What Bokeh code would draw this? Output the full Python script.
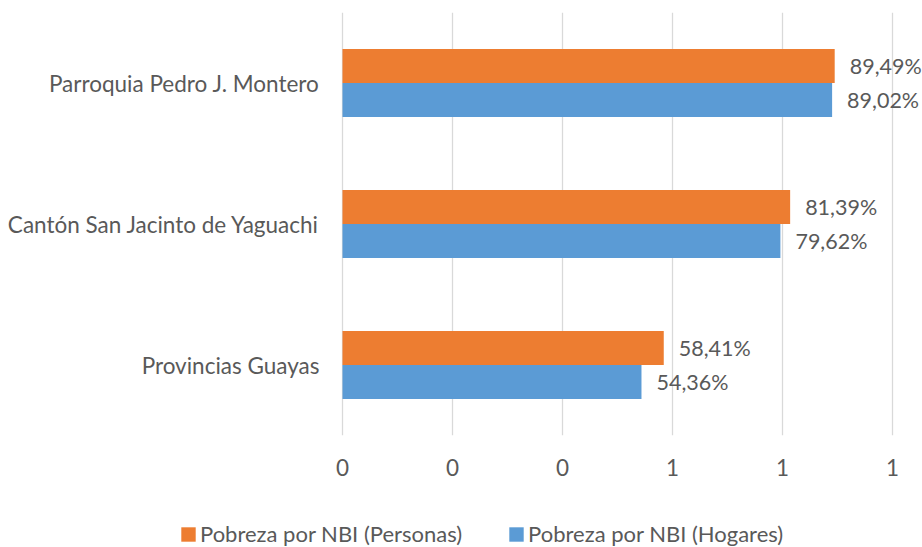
from bokeh.plotting import figure
from bokeh.layouts import column
from bokeh.models import (FactorRange, Range1d, FixedTicker, CustomJSTickFormatter,
                          ColumnDataSource, Legend, LegendItem)
from bokeh.transform import dodge
from bokeh.core.properties import value
from bokeh.embed import file_html
from bokeh.resources import INLINE

# ---- data ----
categories = ["Provincias Guayas", "Cantón San Jacinto de Yaguachi", "Parroquia Pedro J. Montero"]
personas = [0.5841, 0.8139, 0.8949]
hogares = [0.5436, 0.7962, 0.8902]
series_names = ["Pobreza por NBI (Personas)", "Pobreza por NBI (Hogares)"]
x_ticks = [0, 0.2, 0.4, 0.6, 0.8, 1.0]

FONT = "Lato"
TXT = "#595959"
ORANGE = "#ED7D31"
BLUE = "#5B9BD5"


def fmt(v):
    return f"{v * 100:.2f}".replace(".", ",") + "%"


src = ColumnDataSource(dict(
    cat=categories, personas=personas, hogares=hogares,
    lp=[fmt(v) for v in personas], lh=[fmt(v) for v in hogares],
))

W = 922
H_MAIN, H_LEG = 500, 47
PX_PER_UNIT = 550.0
X0 = 342  # pixel position of value 0
p = figure(width=W, height=H_MAIN,
           y_range=FactorRange(*categories),
           x_range=Range1d(-X0 / PX_PER_UNIT, (W - X0) / PX_PER_UNIT),
           output_backend="svg", toolbar_location=None,
           min_border_left=0, min_border_right=0,
           min_border_top=12, min_border_bottom=65)
p.outline_line_color = None
p.background_fill_color = "white"

bh = 0.241
off = 0.1206
p.hbar(y=dodge("cat", off, range=p.y_range), left=0, right="personas", height=bh,
       source=src, fill_color=ORANGE, line_color=None)
p.hbar(y=dodge("cat", -off, range=p.y_range), left=0, right="hogares", height=bh,
       source=src, fill_color=BLUE, line_color=None)

p.text(x="personas", y=dodge("cat", off, range=p.y_range), text="lp", source=src,
       x_offset=15, text_align="left", text_baseline="middle",
       text_font=value(FONT), text_font_size="21.5px", text_color=TXT)
p.text(x="hogares", y=dodge("cat", -off, range=p.y_range), text="lh", source=src,
       x_offset=15, text_align="left", text_baseline="middle",
       text_font=value(FONT), text_font_size="21.5px", text_color=TXT)

# axes
p.xaxis.ticker = FixedTicker(ticks=x_ticks)
p.xaxis.formatter = CustomJSTickFormatter(code="return Math.round(tick).toFixed(0);")
for ax in (p.xaxis, p.yaxis):
    ax.axis_line_color = None
    ax.major_tick_line_color = None
    ax.minor_tick_line_color = None
    ax.major_label_text_font = FONT
    ax.major_label_text_font_size = "22.5px"
    ax.major_label_text_color = TXT
p.xaxis.major_label_standoff = 17
p.yaxis.major_label_standoff = 17
p.yaxis.fixed_location = 0

p.xgrid.ticker = FixedTicker(ticks=x_ticks)
p.xgrid.grid_line_color = "#D9D9D9"
p.xgrid.grid_line_width = 1.3
p.ygrid.grid_line_color = None

# ---- legend strip (separate figure, so the legend can sit below the axis) ----
lf = figure(width=W, height=H_LEG, x_range=Range1d(0, 1), y_range=Range1d(0, 1),
            output_backend="svg", toolbar_location=None,
            x_axis_location=None, y_axis_location=None,
            min_border=0, min_border_left=0, min_border_right=0,
            min_border_top=0, min_border_bottom=0)
lf.outline_line_color = None
lf.grid.grid_line_color = None
l1 = lf.hbar(y=0.5, left=0, right="personas", height=0.1, source=src,
             fill_color=ORANGE, line_color=None, visible=False)
l2 = lf.hbar(y=0.5, left=0, right="hogares", height=0.1, source=src,
             fill_color=BLUE, line_color=None, visible=False)

legend = Legend(items=[LegendItem(label=series_names[0], renderers=[l1]),
                       LegendItem(label=series_names[1], renderers=[l2])],
                orientation="horizontal", location=(179, 0),
                label_text_font=FONT, label_text_font_size="22px", label_text_color=TXT,
                glyph_width=18, glyph_height=18, label_standoff=3, spacing=45,
                padding=0, margin=0, border_line_color=None, background_fill_alpha=0)
lf.add_layout(legend, "center")

open("out.html", "w").write(file_html(column(p, lf, spacing=0), INLINE))
